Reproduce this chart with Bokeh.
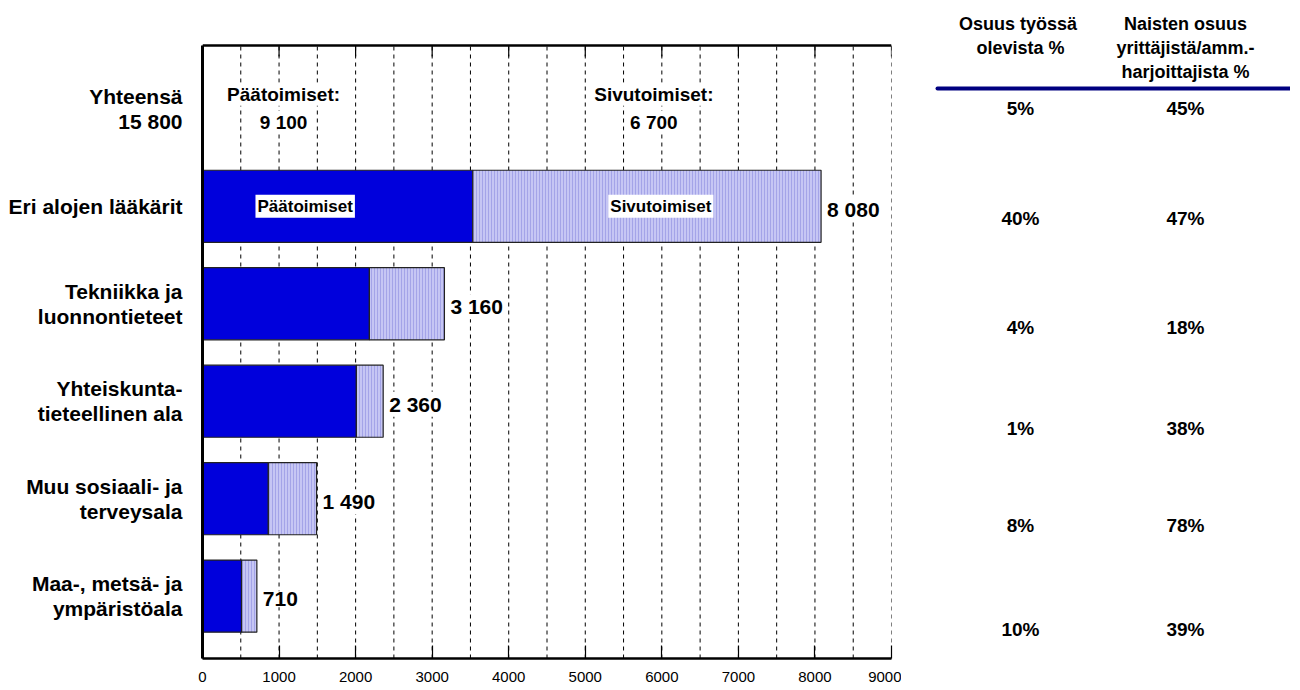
from bokeh.plotting import figure
from bokeh.models import ColumnDataSource, Range1d, FixedTicker, Span
from bokeh.layouts import row
from bokeh.transform import stack
from bokeh.core.properties import value
from bokeh.embed import file_html
from bokeh.resources import INLINE

# ---------------- data ----------------
categories = [
    "Eri alojen lääkärit",
    "Tekniikka ja\nluonnontieteet",
    "Yhteiskunta-\ntieteellinen ala",
    "Muu sosiaali- ja\nterveysala",
    "Maa-, metsä- ja\nympäristöala",
]
paatoimiset = [3530, 2180, 2010, 860, 510]
sivutoimiset = [4550, 980, 350, 630, 200]
yhteensa = [8080, 3160, 2360, 1490, 710]

total_title = "Yhteensä"
total_all = 15800
total_paa = 9100
total_siv = 6700

osuus_tyossa = [5, 40, 4, 1, 8, 10]          # first = Yhteensä row
naisten_osuus = [45, 47, 18, 38, 78, 39]

header_1 = "Osuus  työssä\nolevista %"
header_2 = "Naisten osuus\nyrittäjistä/amm.-\nharjoittajista %"

x_ticks = [0, 1000, 2000, 3000, 4000, 5000, 6000, 7000, 8000, 9000]
grid_ticks = [500, 1000, 1500, 2000, 2500, 3000, 3500, 4000, 4500,
              5000, 5500, 6000, 6500, 7000, 7500, 8000, 8500, 9000]

# ---------------- style / layout ----------------
FONT = value("Liberation Sans")
DARK_BLUE = "#0000dc"
LIGHT_BLUE = "#c6c6f4"
HATCH = "#a4a4e8"

FRAME_W = 689
BAR_AREA_H = 613          # height of the boxed chart area
TOP_SPACE = 45            # space above the boxed area (inside frame)
FRAME_H = BAR_AREA_H + TOP_SPACE
BORDER_LEFT, BORDER_RIGHT = 202, 10
BORDER_BOTTOM = 31
Y0, Y1 = -0.64, 5.65
X0, X1 = 0, 9000
PX_ROW = BAR_AREA_H / (Y1 - Y0)
V_TOP = Y1 + TOP_SPACE / PX_ROW

def fmt(v):
    return f"{v:,}".replace(",", " ")

n = len(categories)
ypos = [n - 1 - i for i in range(n)]   # top row first
total_row = n

src = ColumnDataSource(dict(
    y=ypos, paa=paatoimiset, siv=sivutoimiset, tot=yhteensa,
    lbl=[fmt(v) for v in yhteensa],
))

y_range = Range1d(Y0, V_TOP)

p = figure(frame_width=FRAME_W, frame_height=FRAME_H, title=None,
           min_border_left=BORDER_LEFT, min_border_right=BORDER_RIGHT,
           min_border_top=0, min_border_bottom=BORDER_BOTTOM,
           x_range=Range1d(X0, X1), y_range=y_range,
           output_backend="svg", toolbar_location=None)
p.outline_line_color = None
p.background_fill_color = "white"
p.border_fill_color = "white"
p.grid.grid_line_color = None

# dashed vertical grid inside the box
p.segment(x0=grid_ticks, x1=grid_ticks, y0=[Y0] * len(grid_ticks), y1=[Y1] * len(grid_ticks),
          line_color="black", line_dash="4 4", line_width=1)

# bottom axis
xa = p.xaxis[0]
xa.ticker = FixedTicker(ticks=x_ticks)
xa.major_tick_in = 13
xa.major_tick_out = 0
xa.minor_tick_line_color = None
xa.axis_line_width = 2.5
xa.major_tick_line_width = 1.2
xa.major_label_text_font = "Liberation Sans"
xa.major_label_text_font_size = "15px"
xa.major_label_text_color = "black"
xa.major_label_standoff = 13

# top box line with ticks
p.add_layout(Span(location=Y1, dimension="width", line_color="black", line_width=2.5))
p.segment(x0=x_ticks, x1=x_ticks, y0=[Y1] * len(x_ticks),
          y1=[Y1 - 11 / PX_ROW] * len(x_ticks), line_color="black", line_width=1.2)

# left axis with category labels
ya = p.yaxis[0]
ya.bounds = (Y0, Y1)
ya.ticker = FixedTicker(ticks=list(range(n + 1)))
overrides = {y: c for y, c in zip(ypos, categories)}
overrides[total_row] = f"{total_title}\n{fmt(total_all)}"
ya.major_label_overrides = overrides
ya.major_tick_line_color = None
ya.minor_tick_line_color = None
ya.axis_line_width = 3
ya.major_label_text_font = "Liberation Sans"
ya.major_label_text_font_style = "bold"
ya.major_label_text_font_size = "21px"
ya.major_label_text_color = "black"
ya.major_label_text_line_height = 1.08
ya.major_label_standoff = 14

# bars
BAR_H = 0.74
p.hbar(y="y", left=0, right="paa", height=BAR_H, source=src,
       fill_color=DARK_BLUE, line_color="#222222", line_width=1.2)
p.hbar(y="y", left="paa", right=stack("paa", "siv"), height=BAR_H, source=src,
       fill_color=LIGHT_BLUE, hatch_pattern="|", hatch_color=HATCH,
       hatch_scale=3, hatch_weight=1, line_color="#222222", line_width=1.2)

# total labels at bar ends
p.text(x="tot", y="y", text="lbl", source=src, x_offset=5, y_offset=3,
       text_align="left", text_baseline="middle", text_font=FONT,
       text_font_style="bold", text_font_size="21px", text_color="black",
       background_fill_color="white", padding=1)

# in-bar legend labels (on the top bar)
top_i = 0
p.text(x=[paatoimiset[top_i] * 0.38, paatoimiset[top_i] + sivutoimiset[top_i] * 0.54],
       y=[ypos[top_i], ypos[top_i]], text=["Päätoimiset", "Sivutoimiset"],
       text_align="center", text_baseline="middle", text_font=FONT,
       text_font_style="bold", text_font_size="17px", text_color="black",
       background_fill_color="white", padding=2)

# totals row texts
xs_hdr = [paatoimiset[top_i] * 0.30, paatoimiset[top_i] + sivutoimiset[top_i] * 0.52]
p.text(x=xs_hdr, y=[total_row + 0.15] * 2, text=["Päätoimiset:", "Sivutoimiset:"],
       text_align="center", text_baseline="middle", text_font=FONT,
       text_font_style="bold", text_font_size="19px", text_color="black",
       background_fill_color="white", padding=1)
p.text(x=xs_hdr, y=[total_row - 0.14] * 2, text=[fmt(total_paa), fmt(total_siv)],
       text_align="center", text_baseline="middle", text_font=FONT,
       text_font_style="bold", text_font_size="19px", text_color="black",
       background_fill_color="white", padding=1)

# ---------------- right table ----------------
T_W = 389
p2 = figure(frame_width=T_W, frame_height=FRAME_H, title=None,
            min_border_left=0, min_border_right=0, min_border_top=0,
            min_border_bottom=BORDER_BOTTOM,
            x_range=Range1d(0, T_W), y_range=y_range,
            x_axis_location=None, y_axis_location=None,
            output_backend="svg", toolbar_location=None)
p2.grid.grid_line_color = None
p2.outline_line_color = None

col_x = [119, 284]
p2.text(x=col_x, y=[V_TOP - 13 / PX_ROW] * 2, text=[header_1, header_2],
        text_align="center", text_baseline="top", text_font=FONT,
        text_font_style="bold", text_font_size="18px", text_color="black",
        text_line_height=1.2)

line_v = V_TOP - 88 / PX_ROW
p2.segment(x0=[36], x1=[T_W], y0=[line_v], y1=[line_v],
           line_width=4, line_color="#000080", line_cap="round")

row_offsets = [0, -0.13, -0.24, -0.28, -0.28, -0.34]
rows_y = [total_row] + ypos
ty = [r + o for r, o in zip(rows_y, row_offsets)]
p2.text(x=[col_x[0]] * len(ty), y=ty, text=[f"{v}%" for v in osuus_tyossa],
        text_align="center", text_baseline="middle", text_font=FONT,
        text_font_style="bold", text_font_size="19px", text_color="black")
p2.text(x=[col_x[1]] * len(ty), y=ty, text=[f"{v}%" for v in naisten_osuus],
        text_align="center", text_baseline="middle", text_font=FONT,
        text_font_style="bold", text_font_size="19px", text_color="black")

layout = row(p, p2)
open("out.html", "w").write(file_html(layout, INLINE))
